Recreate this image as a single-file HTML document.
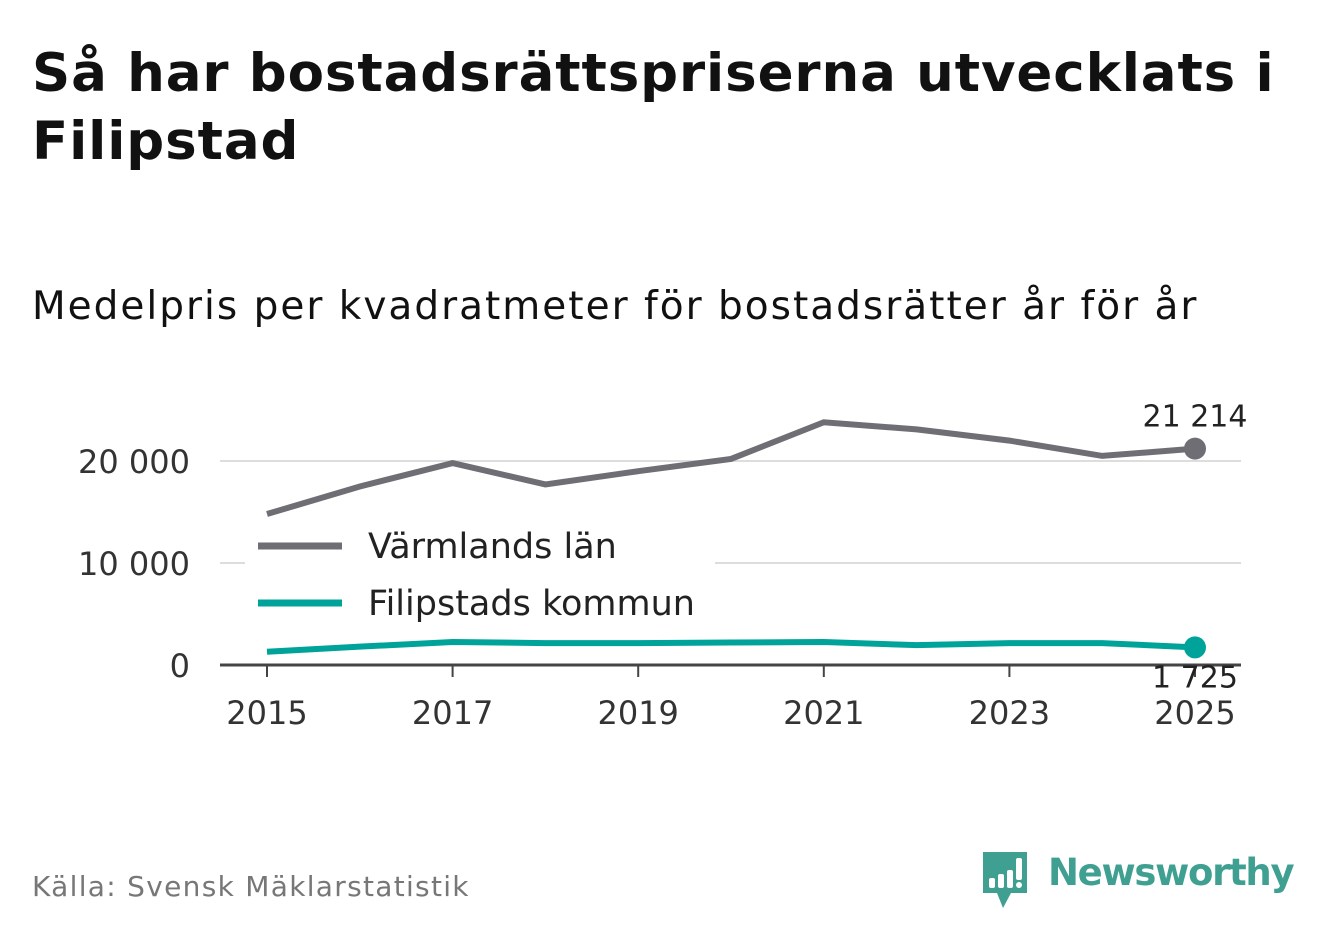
<!DOCTYPE html>
<html><head><meta charset="utf-8"><style>
body{margin:0;width:1322px;height:939px;background:#fff;font-family:"DejaVu Sans","Liberation Sans",sans-serif;overflow:hidden;position:relative}
.t{position:absolute;left:32px;top:40px;font-size:53px;font-weight:bold;color:#111;line-height:68px;margin:0;width:1290px;letter-spacing:0.9px}
.s{position:absolute;left:32px;top:284px;font-size:39px;color:#111;letter-spacing:2px;white-space:nowrap}
.src{position:absolute;left:32px;top:870px;font-size:28px;color:#777;letter-spacing:1.3px}
svg text{font-family:"DejaVu Sans","Liberation Sans",sans-serif}
</style></head><body>
<h1 class="t">Så har bostadsrättspriserna utvecklats i Filipstad</h1>
<div class="s">Medelpris per kvadratmeter för bostadsrätter år för år</div>
<div class="src">Källa: Svensk Mäklarstatistik</div>
<svg id="c" width="1322" height="939" style="position:absolute;left:0;top:0"></svg>
<div style="position:absolute;left:981px;top:850px">
<svg width="50" height="60" style="position:absolute;left:0;top:0"><path d="M2 2H46V43H30L22 58L16 43H2Z" fill="#3fa092"/><rect x="8" y="28" width="6" height="10" fill="#fff" rx="2"/><rect x="17" y="24" width="6" height="14" fill="#fff" rx="2"/><rect x="26" y="20" width="6" height="18" fill="#fff" rx="2"/><rect x="35" y="8" width="6" height="22" fill="#fff" rx="2"/><circle cx="38" cy="35" r="3" fill="#fff"/></svg>
<div style="position:absolute;left:67px;top:1px;font-size:37px;color:#3fa092;font-weight:bold;white-space:nowrap;letter-spacing:-1.3px">Newsworthy</div></div>
<script>
const years=[2015,2016,2017,2018,2019,2020,2021,2022,2023,2024,2025];
const varmland=[14800,17500,19800,17700,19000,20200,23800,23100,22000,20500,21214];
const filipstad=[1300,1800,2250,2150,2150,2200,2250,1950,2150,2150,1725];
const yTicks=[0,10000,20000];
const yTickLabels=["0","10 000","20 000"];
const xTicks=[2015,2017,2019,2021,2023,2025];
const NS="http://www.w3.org/2000/svg",svg=document.getElementById('c');
const x=v=>267+(v-2015)*92.8, y=v=>665-v*0.0102;
function mk(t,a,p){const e=document.createElementNS(NS,t);for(const k in a)e.setAttribute(k,a[k]);(p||svg).appendChild(e);return e;}
yTicks.forEach((v,i)=>{
 if(v>0){const g=mk('line',{x1:220,x2:1241,y1:y(v),y2:y(v),stroke:'#ddd','stroke-width':2});
 
 }
 const t=mk('text',{x:190,y:y(v)+12,'text-anchor':'end','font-size':32,fill:'#333'});t.textContent=yTickLabels[i];
 
 
});
const ax=mk('line',{x1:220,x2:1241,y1:665,y2:665,stroke:'#444','stroke-width':3});


xTicks.forEach(v=>{
 mk('line',{x1:x(v),x2:x(v),y1:665,y2:677,stroke:'#444','stroke-width':2});
 const t=mk('text',{x:x(v),y:724,'text-anchor':'middle','font-size':32,fill:'#333'});t.textContent=v;
 
 
});
function series(vals,col,name,lab,ly){
 const p=mk('polyline',{points:vals.map((v,i)=>x(years[i])+','+y(v)).join(' '),fill:'none',stroke:col,'stroke-width':6});
 
 
 const last=vals.length-1;
 const d=mk('circle',{cx:x(years[last]),cy:y(vals[last]),r:11,fill:col});
 
 
 const t=mk('text',{x:x(years[last]),y:y(vals[last])+ly,'text-anchor':'middle','font-size':30,fill:'#222'});
 t.textContent=vals[last].toLocaleString('sv-SE').replace(/\s/g,' ');
 
 
}
series(varmland,'#6e6e74','varmland',0,-22);
series(filipstad,'#00a39a','filipstad',0,40);
const lb=mk('rect',{x:245,y:520,width:470,height:118,fill:'#fff'});


[['#6e6e74','Värmlands län',546],['#00a39a','Filipstads kommun',603]].forEach(([c,n,yy])=>{
 mk('line',{x1:258,x2:342,y1:yy,y2:yy,stroke:c,'stroke-width':7});
 const t=mk('text',{x:368,y:yy+12,'font-size':35,fill:'#222'});t.textContent=n;
 
 
});
</script>
</body></html>
